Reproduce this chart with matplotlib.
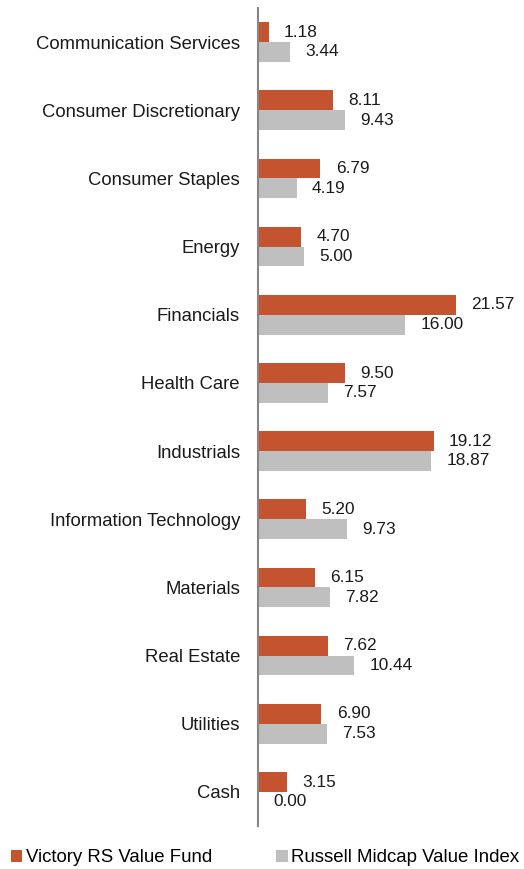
import numpy as np
import matplotlib.pyplot as plt

plt.rcParams['font.family'] = ['Liberation Sans', 'DejaVu Sans']

# Sector weights (%)
sectores = ['Communication Services', 'Consumer Discretionary', 'Consumer Staples',
            'Energy', 'Financials', 'Health Care', 'Industrials',
            'Information Technology', 'Materials', 'Real Estate', 'Utilities', 'Cash']
fondo = [1.18, 8.11, 6.79, 4.70, 21.57, 9.50, 19.12, 5.20, 6.15, 7.62, 6.90, 3.15]
indice = [3.44, 9.43, 4.19, 5.00, 16.00, 7.57, 18.87, 9.73, 7.82, 10.44, 7.53, 0.00]

nombre_fondo = 'Victory RS Value Fund'
nombre_indice = 'Russell Midcap Value Index'

color_fondo = '#C4532F'
color_indice = '#BFBFBF'

fig = plt.figure(figsize=(5.24, 8.69), dpi=100)
ax = fig.add_axes([258 / 524, 43 / 869, 261 / 524, 818 / 869])

y = np.arange(len(sectores))
alto = 0.29
b1 = ax.barh(y - alto / 2, fondo, height=alto, color=color_fondo, label=nombre_fondo)
b2 = ax.barh(y + alto / 2, indice, height=alto, color=color_indice, label=nombre_indice)

# Etiquetas de valor al final de cada barra
for barras, valores in [(b1, fondo), (b2, indice)]:
    for barra, v in zip(barras, valores):
        ax.annotate(f'{v:.2f}', xy=(v, barra.get_y() + barra.get_height() / 2),
                    xytext=(11, 0), textcoords='offset points',
                    ha='left', va='center', fontsize=12.4, color='#1a1a1a')

ax.set_xlim(0, 28.4)
ax.set_ylim(len(sectores) - 0.5, -0.5)
ax.set_yticks(y)
ax.set_yticklabels(sectores, fontsize=13.35, color='#1a1a1a')
ax.tick_params(axis='y', length=0, pad=13)
ax.set_xticks([])

for lado in ['top', 'right', 'bottom']:
    ax.spines[lado].set_visible(False)
ax.spines['left'].set_color('#868686')
ax.spines['left'].set_linewidth(1.5)

fig.legend(handles=[b1, b2], loc='center left', bbox_to_anchor=(11 / 524, 1 - 858 / 869),
           ncol=2, frameon=False, fontsize=13.4, handlelength=0.6, handleheight=0.6,
           handletextpad=0.2, columnspacing=3.45, borderpad=0, borderaxespad=0)

plt.savefig('out.png', dpi=100)
plt.close()
